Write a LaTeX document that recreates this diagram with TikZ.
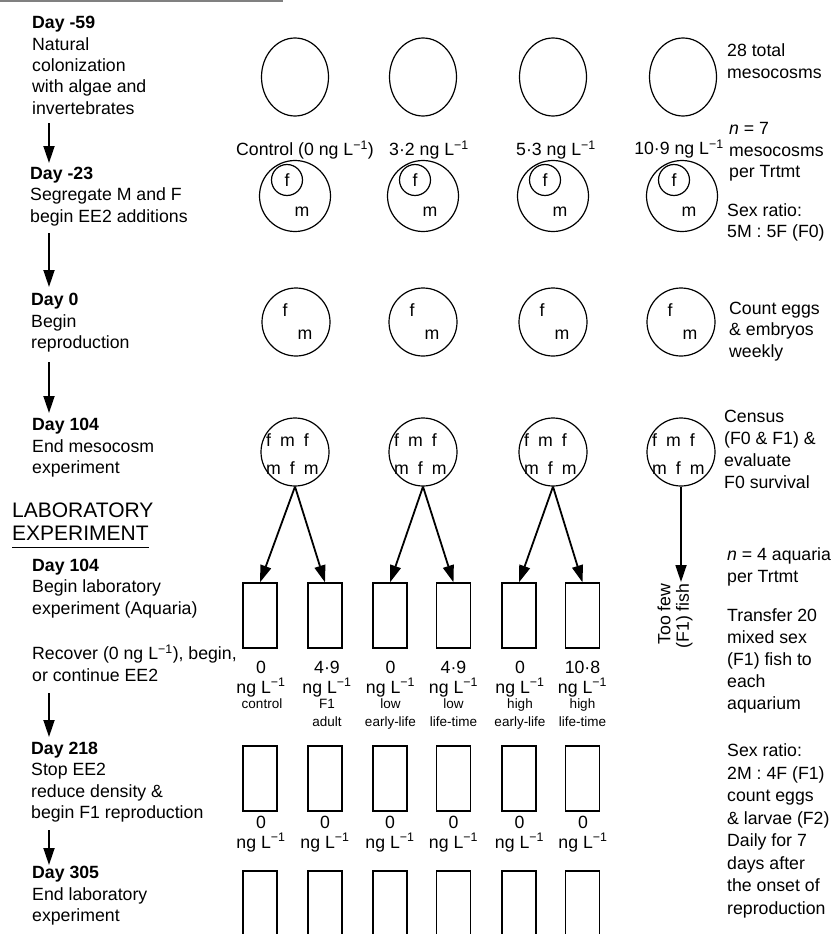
\documentclass[tikz,border=0pt]{standalone}
\usepackage{fontspec}
\setmainfont{Liberation Sans}
\usetikzlibrary{arrows.meta,shapes.geometric}
\newcommand\perL{L\textsuperscript{−1}}
\newcommand\fmgap{\hspace{9pt}}
\begin{document}
\begin{tikzpicture}[x=1pt,y=-1pt,
  txt/.style={inner sep=0pt, align=left, anchor=west, font=\fontsize{17.7}{21.4}\selectfont},
  ctxt/.style={inner sep=0pt, align=center, font=\fontsize{17.7}{21.4}\selectfont},
  head/.style={inner sep=0pt, anchor=west, font=\fontsize{21}{24}\selectfont},
  dose/.style={inner sep=0pt, align=center, anchor=north, font=\fontsize{17.7}{20}\selectfont},
  cat/.style={inner sep=0pt, align=center, anchor=north, font=\fontsize{13.5}{18}\selectfont},
  letter/.style={inner sep=0pt, font=\fontsize{17.7}{21.4}\selectfont},
  ell/.style={ellipse, draw, line width=1.2pt, minimum width=67pt, minimum height=78pt, inner sep=0pt},
  ring/.style={circle, draw, line width=1.2pt, minimum size=68pt, inner sep=0pt},
  bigring/.style={circle, draw, line width=1.2pt, minimum size=71pt, inner sep=0pt},
  fring/.style={circle, draw, line width=1.2pt, minimum size=31pt, inner sep=0pt, font=\fontsize{17.7}{21.4}\selectfont},
  tank/.style={draw, line width=1.3pt, minimum width=34pt, minimum height=65pt, inner sep=0pt},
  arr/.style={line width=1.8pt, -{Triangle[length=17pt,width=11pt]}}
]
\clip (0,0) rectangle (835,934);
\fill[white] (0,0) rectangle (835,934);

% cut-off heading rule at the top
\coordinate (topA) at (0,1);
\coordinate (topB) at (283,1);
\draw[gray, line width=2pt] (topA) -- (topB);

% left column
\node[txt] (b1) at (32,65.5) {\textbf{Day -59}\\Natural\\colonization\\with algae and\\invertebrates};
\node[txt] (b2) at (30,196.5) {\textbf{Day -23}\\Segregate M and F\\begin EE2 additions};
\node[txt] (b3) at (31,323) {\textbf{Day 0}\\Begin\\reproduction};
\node[txt] (b4) at (32,448) {\textbf{Day 104}\\End mesocosm\\experiment};
\node[head] (labA) at (12,510) {LABORATORY};
\node[head] (labB) at (12,533) {EXPERIMENT};
\draw[line width=1.3pt] ([yshift=-7pt]labB.south west) -- ([yshift=-7pt]labB.south east);
\node[txt] (b5) at (32,588.5) {\textbf{Day 104}\\Begin laboratory\\experiment (Aquaria)};
\node[txt] (b6) at (32,663) {Recover (0 ng \perL), begin,\\or continue EE2};
\node[txt] (b7) at (31,782) {\textbf{Day 218}\\Stop EE2\\reduce density \&\\begin F1 reproduction};
\node[txt] (b8) at (32,896) {\textbf{Day 305}\\End laboratory\\experiment};

\coordinate (a1s) at (49,123); \coordinate (a1e) at (49,163);
\coordinate (a2s) at (49,233); \coordinate (a2e) at (49,287);
\coordinate (a3s) at (49,362); \coordinate (a3e) at (49,413);
\coordinate (a4s) at (49,693); \coordinate (a4e) at (49,737);
\coordinate (a5s) at (49,830); \coordinate (a5e) at (49,865);
\draw[arr] (a1s) -- (a1e);
\draw[arr] (a2s) -- (a2e);
\draw[arr] (a3s) -- (a3e);
\draw[arr] (a4s) -- (a4e);
\draw[arr] (a5s) -- (a5e);

% top row mesocosms
\foreach \x/\i in {295/1,423/2,553/3,683/4}
  \node[ell] (e\i) at (\x,77) {};

% treatment labels
\node[ctxt] (tr1) at (305,150) {Control (0 ng \perL)};
\node[ctxt] (tr2) at (429,150) {3·2 ng \perL};
\node[ctxt] (tr3) at (556,150) {5·3 ng \perL};
\node[ctxt] (tr4) at (679,149) {10·9 ng \perL};

% row 2: segregated
\foreach \x/\i in {295/1,423/2,553/3,682/4}{
  \node[bigring] (s\i) at (\x,196) {};
  \node[fring] (sf\i) at (\x-8,180) {f};
  \node[letter] (sm\i) at (\x+7,212) {m};
}

% row 3: reproduction
\foreach \x/\i in {296/1,423/2,553/3,681/4}{
  \node[ring] (r\i) at (\x,322) {};
  \node[letter] (rf\i) at (\x-11,310) {f};
  \node[letter] (rm\i) at (\x+9,335) {m};
}

% row 4: census
\foreach \x/\i in {295/1,423/2,553/3,681/4}{
  \node[ring] (d\i) at (\x,452) {};
  \node[inner sep=0pt, align=left, anchor=west, font=\fontsize{17.7}{28}\selectfont] (dt\i) at (\x-29,454) {f\fmgap m\fmgap f\\m\fmgap f\fmgap m};
}

% aquaria rows
\foreach \x/\i in {260/1,325/2,390/3,453.5/4,519/5,582.5/6}{
  \node[tank] (t\i) at (\x,615.5) {};
  \node[tank] (u\i) at (\x,778.5) {};
  \node[tank, minimum height=110pt] (v\i) at (\x,926) {};
}

\draw[arr] (d1.south) -- (t1.north);
\draw[arr] (d1.south) -- (t2.north);
\draw[arr] (d2.south) -- (t3.north);
\draw[arr] (d2.south) -- (t4.north);
\draw[arr] (d3.south) -- (t5.north);
\draw[arr] (d3.south) -- (t6.north);
\coordinate (fewtip) at (681,582);
\draw[arr] (d4.south) -- (fewtip);
\node[inner sep=0pt, rotate=90, align=right, font=\fontsize{17.7}{18.5}\selectfont] (few) at (675,616) {Too few\\(F1) fish};

% dose labels row 1
\foreach \x/\d/\i in {261/0/1,327/4·9/2,390.5/0/3,453.5/4·9/4,520/0/5,582.5/10·8/6}
  \node[dose] (dl\i) at (\x,660.5) {\d\\ng \perL};
\node[cat] (c1) at (262,699) {control};
\node[cat] (c2) at (327,699) {F1\\adult};
\node[cat] (c3) at (390.5,699) {low\\early-life};
\node[cat] (c4) at (453.5,699) {low\\life-time};
\node[cat] (c5) at (520,699) {high\\early-life};
\node[cat] (c6) at (582.5,699) {high\\life-time};

% dose labels row 2
\foreach \x/\i in {261/1,325/2,390/3,453.5/4,519.5/5,583/6}
  \node[dose] (dm\i) at (\x,815.6) {0\\ng \perL};

% right column
\node[txt] (n1) at (727,61) {28 total\\mesocosms};
\node[txt] (n2) at (729,152) {\textit{n} = 7\\mesocosms\\per Trtmt};
\node[txt] (n3) at (727,222.5) {Sex ratio:\\5M : 5F (F0)};
\node[txt] (n4) at (729,331.5) {Count eggs\\\& embryos\\weekly};
\node[txt, font=\fontsize{17.7}{22}\selectfont] (n5) at (724,449.5) {Census\\(F0 \& F1) \&\\evaluate\\F0 survival};
\node[txt, font=\fontsize{17.7}{22}\selectfont] (n6) at (727,567) {\textit{n} = 4 aquaria\\per Trtmt};
\node[txt, font=\fontsize{17.7}{22}\selectfont] (n7) at (727,661) {Transfer 20\\mixed sex\\(F1) fish to\\each\\aquarium};
\node[txt, font=\fontsize{17.7}{22.5}\selectfont] (n8) at (727,831) {Sex ratio:\\2M : 4F (F1)\\count eggs\\\& larvae (F2)\\Daily for 7\\days after\\the onset of\\reproduction};
\end{tikzpicture}
\end{document}
